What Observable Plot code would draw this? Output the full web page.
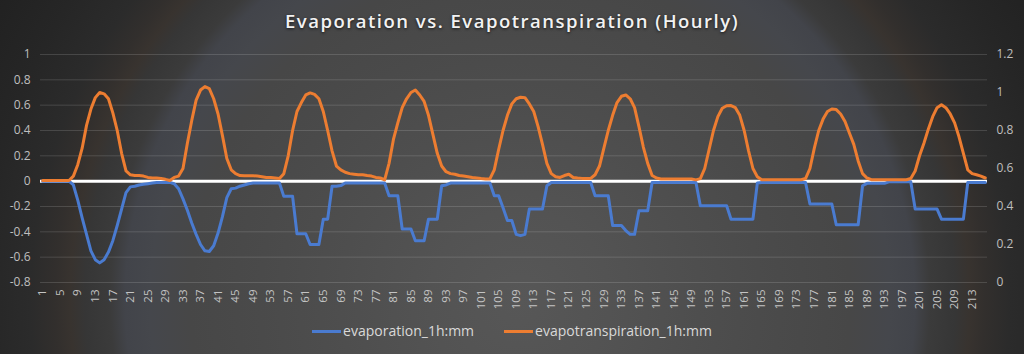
<!DOCTYPE html>
<html><head><meta charset="utf-8">
<script src="https://cdn.jsdelivr.net/npm/d3@7"></script>
<script src="https://cdn.jsdelivr.net/npm/@observablehq/plot@0.6"></script>
<style>
html,body{margin:0;padding:0;background:#1e1e1e;}
#chart{position:relative;width:1024px;height:354px;overflow:hidden;
 background: radial-gradient(circle at 520px 300px, #575757 0px, #535353 90px, #4e4e4e 180px, #4a4a4a 260px, #474747 330px, #45474c 370px, #42444a 395px, #3b3b3b 410px, #363636 435px, #38332f 450px, #322f2d 465px, #2b2b2b 490px, #262626 540px, #202020 620px, #1c1c1c 700px);
 font-family:"Open Sans",sans-serif;}
#chart svg{position:absolute;left:0;top:0;}
#title{position:absolute;top:12px;left:0;width:1024px;text-align:center;color:#f2f2f2;font-size:18.5px;line-height:1;font-weight:600;letter-spacing:1.5px;text-shadow:0 1px 3px rgba(0,0,0,0.7);z-index:2}
#legend{position:absolute;top:321px;left:0;width:1024px;display:flex;justify-content:center;gap:30px;color:#d9d9d9;font-size:14px;line-height:20px;z-index:2}
.item{display:flex;align-items:center;}
.sw{display:inline-block;width:29px;height:3px;margin-right:2px;}
</style></head>
<body><div id="chart"><div id="title">Evaporation vs. Evapotranspiration (Hourly)</div><div id="legend"></div></div>
<script>
const seriesNames = ["evaporation_1h:mm", "evapotranspiration_1h:mm"];
const seriesColors = ["#4a7bd0", "#ed7d31"];
const hours = d3.range(1, 217);
const xTicks = [1,5,9,13,17,21,25,29,33,37,41,45,49,53,57,61,65,69,73,77,81,85,89,93,97,101,105,109,113,117,121,125,129,133,137,141,145,149,153,157,161,165,169,173,177,181,185,189,193,197,201,205,209,213];
const leftTicks = [-0.8,-0.6,-0.4,-0.2,0,0.2,0.4,0.6,0.8,1];
const rightTicks = [0,0.2,0.4,0.6,0.8,1,1.2];
// evaporation (left axis)
const evaporation = [
 0,0,0,0,0,0,0,-0.03,-0.15,-0.29,-0.42,-0.55,-0.62,-0.645,-0.62,-0.56,-0.47,-0.35,-0.22,-0.09,-0.045,-0.04,-0.03,-0.025,
 -0.02,-0.015,-0.01,-0.01,-0.01,-0.01,-0.02,-0.06,-0.14,-0.23,-0.33,-0.42,-0.5,-0.55,-0.555,-0.51,-0.41,-0.28,-0.13,-0.06,-0.055,-0.04,-0.03,-0.02,
 -0.015,-0.015,-0.015,-0.015,-0.015,-0.015,-0.015,-0.12,-0.12,-0.12,-0.415,-0.415,-0.415,-0.5,-0.5,-0.5,-0.3,-0.3,-0.04,-0.04,-0.035,-0.015,-0.015,-0.015,
 -0.015,-0.015,-0.015,-0.015,-0.015,-0.015,-0.015,-0.115,-0.115,-0.115,-0.378,-0.378,-0.378,-0.47,-0.47,-0.47,-0.3,-0.3,-0.3,-0.036,-0.03,-0.015,-0.015,-0.015,
 -0.015,-0.015,-0.015,-0.015,-0.015,-0.015,-0.015,-0.115,-0.115,-0.21,-0.31,-0.31,-0.42,-0.43,-0.42,-0.22,-0.22,-0.22,-0.22,-0.036,-0.01,-0.01,-0.01,-0.01,
 -0.01,-0.01,-0.01,-0.01,-0.01,-0.01,-0.115,-0.115,-0.115,-0.115,-0.35,-0.35,-0.35,-0.39,-0.42,-0.42,-0.233,-0.233,-0.233,-0.01,-0.01,-0.01,-0.01,-0.01,
 -0.01,-0.01,-0.01,-0.01,-0.01,-0.01,-0.194,-0.194,-0.194,-0.194,-0.194,-0.194,-0.194,-0.3,-0.3,-0.3,-0.3,-0.3,-0.3,-0.015,-0.01,-0.01,-0.01,-0.01,
 -0.01,-0.01,-0.01,-0.01,-0.01,-0.01,-0.01,-0.18,-0.18,-0.18,-0.18,-0.18,-0.18,-0.344,-0.344,-0.344,-0.344,-0.344,-0.344,-0.036,-0.017,-0.017,-0.017,-0.017,
 -0.017,-0.005,-0.005,-0.005,-0.005,-0.005,-0.005,-0.22,-0.22,-0.22,-0.22,-0.22,-0.22,-0.3,-0.3,-0.3,-0.3,-0.3,-0.3,-0.01,-0.01,-0.01,-0.01,-0.01
];
// evapotranspiration (right axis)
const evapotranspiration = [
 0.537,0.537,0.537,0.537,0.537,0.537,0.537,0.560,0.620,0.707,0.827,0.913,0.973,1.000,0.993,0.967,0.893,0.800,0.680,0.587,0.567,0.563,0.563,0.560,
 0.553,0.550,0.550,0.547,0.543,0.537,0.553,0.560,0.600,0.733,0.853,0.960,1.013,1.031,1.020,0.967,0.887,0.773,0.653,0.593,0.573,0.563,0.562,0.562,
 0.562,0.560,0.557,0.553,0.553,0.550,0.547,0.573,0.667,0.800,0.900,0.947,0.987,0.998,0.990,0.967,0.900,0.800,0.693,0.613,0.593,0.580,0.573,0.570,
 0.567,0.567,0.563,0.560,0.553,0.550,0.540,0.627,0.753,0.840,0.920,0.967,1.000,1.013,0.987,0.953,0.880,0.780,0.680,0.613,0.583,0.573,0.570,0.563,
 0.560,0.557,0.553,0.550,0.547,0.545,0.545,0.593,0.700,0.800,0.880,0.940,0.967,0.975,0.973,0.940,0.900,0.820,0.727,0.627,0.573,0.557,0.553,0.563,
 0.570,0.553,0.550,0.548,0.548,0.548,0.567,0.613,0.707,0.800,0.880,0.947,0.980,0.987,0.967,0.920,0.820,0.713,0.627,0.563,0.550,0.545,0.545,0.545,
 0.545,0.545,0.545,0.545,0.545,0.540,0.547,0.600,0.700,0.800,0.873,0.917,0.930,0.931,0.920,0.880,0.800,0.693,0.600,0.557,0.541,0.541,0.541,0.541,
 0.541,0.541,0.541,0.541,0.541,0.541,0.547,0.600,0.707,0.800,0.860,0.900,0.913,0.910,0.887,0.847,0.787,0.727,0.640,0.573,0.550,0.541,0.541,0.541,
 0.541,0.541,0.541,0.541,0.541,0.541,0.547,0.587,0.667,0.733,0.807,0.873,0.920,0.935,0.920,0.887,0.840,0.767,0.680,0.593,0.573,0.567,0.560,0.550
];

const leftMin = -0.8, leftMax = 1, rightMin = 0, rightMax = 1.2;
const toLeft = v => leftMin + (v - rightMin) * (leftMax - leftMin) / (rightMax - rightMin);
const rows = hours.map((h, i) => ({hour: h, evap: evaporation[i], et: toLeft(evapotranspiration[i])}));
const fmt = d => String(Math.round(d * 10) / 10);

const chart = Plot.plot({
  width: 1024, height: 354,
  marginLeft: 40, marginRight: 37, marginTop: 54, marginBottom: 72,
  style: {background: "transparent", color: "#bfbfbf", fontFamily: "Open Sans, sans-serif", fontSize: "12px"},
  x: {type: "point", domain: hours, padding: 0.5, label: null},
  y: {domain: [leftMin, leftMax], label: null},
  marks: [
    Plot.gridY(leftTicks, {stroke: "#ffffff", strokeOpacity: 0.14, strokeWidth: 1}),
    Plot.ruleY([0], {stroke: "#ffffff", strokeWidth: 3}),
    Plot.axisY(leftTicks, {anchor: "left", tickSize: 0, tickPadding: 10, tickFormat: fmt, fontSize: 12, fill: "#bfbfbf", label: null}),
    Plot.axisY(rightTicks.map(toLeft), {anchor: "right", tickSize: 0, tickPadding: 9, tickFormat: d => fmt(rightMin + (d - leftMin) * (rightMax - rightMin) / (leftMax - leftMin)), fontSize: 12, fill: "#bfbfbf", label: null}),
    Plot.axisX(xTicks, {anchor: "bottom", tickSize: 0, tickRotate: -90, tickPadding: 7, fontSize: 11.5, fill: "#c4c4c4", label: null}),
    Plot.line(rows, {x: "hour", y: "evap", stroke: seriesColors[0], strokeWidth: 3, strokeLinejoin: "round"}),
    Plot.line(rows, {x: "hour", y: "et", stroke: seriesColors[1], strokeWidth: 3, strokeLinejoin: "round"})
  ]
});
document.getElementById("chart").appendChild(chart);

const legend = document.getElementById("legend");
seriesNames.forEach((n, i) => {
  const it = document.createElement("div"); it.className = "item";
  const sw = document.createElement("span"); sw.className = "sw"; sw.style.background = seriesColors[i];
  const tx = document.createElement("span"); tx.textContent = n;
  it.appendChild(sw); it.appendChild(tx); legend.appendChild(it);
});
</script></body></html>
